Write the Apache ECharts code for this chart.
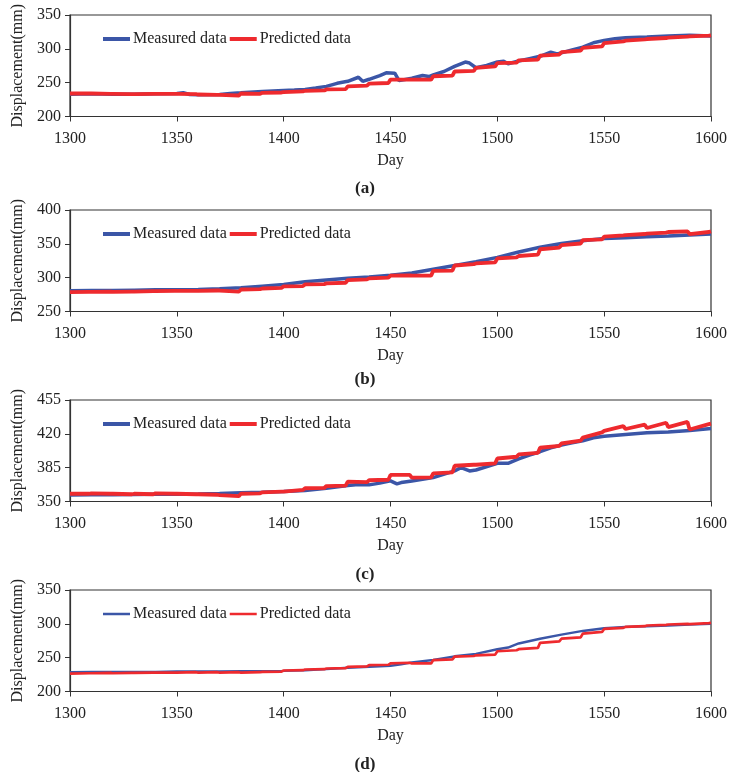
<!DOCTYPE html>
<html>
<head>
<meta charset="utf-8">
<script src="https://cdn.jsdelivr.net/npm/echarts@6/dist/echarts.min.js"></script>
<style>
  html, body { margin: 0; padding: 0; background: #fff; }
  #chart { width: 730px; height: 772px; }
</style>
</head>
<body>
<div id="chart"></div>
<script>
// Day axis and tick settings
const dayMin = 1300, dayMax = 1600, dayStep = 50;
const yRanges = [[200, 350, 50], [250, 400, 50], [350, 455, 35], [200, 350, 50]];
const panelLetters = ['a', 'b', 'c', 'd'];
const seriesNames = ['Measured data', 'Predicted data'];

// Measured displacement, [day, mm]
const measuredA = [[1300,233],[1310,233.5],[1320,233],[1330,233],[1340,233.5],[1350,234],[1353,235],[1356,232.5],[1360,232],[1370,232.5],[1375,234],[1380,235],[1384,236],[1390,237],[1400,238.5],[1405,239],[1410,240],[1415,242],[1420,244.5],[1425,249],[1430,252],[1435,258],[1437,252],[1440,255],[1445,260.5],[1448,264.5],[1452,264],[1454,253],[1460,256.5],[1465,260.5],[1468,259],[1470,261.5],[1475,266.5],[1480,274],[1485,280.5],[1487,279],[1490,272],[1495,275.5],[1500,280.5],[1503,281.5],[1505,278],[1510,282],[1515,285.5],[1520,289],[1525,295],[1528,292.5],[1530,294],[1535,298.5],[1540,302.5],[1545,309],[1550,312.5],[1555,315],[1560,316.5],[1570,317.5],[1580,319],[1590,320],[1600,319]];
const measuredB = [[1300,280.5],[1310,281],[1320,281],[1330,281.5],[1340,282],[1350,282],[1360,282.5],[1370,283.5],[1380,285],[1390,287.5],[1400,290],[1410,294],[1420,296.5],[1430,299],[1440,301],[1450,303.5],[1460,307],[1470,312.5],[1480,318],[1490,323.5],[1500,330],[1510,338],[1520,345],[1530,350.5],[1540,354.5],[1550,358],[1560,359],[1570,360.5],[1580,361.5],[1590,363],[1600,364.5]];
const measuredC = [[1300,356.8],[1310,357],[1320,357],[1330,357.2],[1340,357.5],[1350,357.5],[1360,357.8],[1370,358.3],[1380,359],[1390,359.6],[1400,360.3],[1410,361.3],[1420,363.7],[1430,366.5],[1435,367.5],[1440,367.2],[1445,369],[1450,371.3],[1453,368.2],[1455,369.6],[1460,371.3],[1470,374.7],[1480,381.6],[1483,385],[1487,381.6],[1490,382.6],[1500,389.5],[1505,389.5],[1510,394],[1515,398],[1520,401.5],[1525,405.6],[1530,408.3],[1535,410.7],[1540,412.8],[1545,415.9],[1550,417.6],[1560,419.3],[1570,421],[1580,422],[1590,423.4],[1600,425.5]];
const measuredD = [[1300,228.5],[1310,229],[1320,229],[1330,229],[1340,229],[1350,229.5],[1360,229.5],[1370,229.5],[1380,230],[1390,230],[1400,230.5],[1410,231.5],[1420,233],[1430,235],[1440,236.5],[1450,238],[1455,240],[1460,243],[1470,246.5],[1480,252],[1490,255.5],[1500,262.5],[1505,265],[1510,271],[1520,278],[1530,284],[1540,289.5],[1550,293.5],[1560,295.5],[1570,296.5],[1580,297.5],[1590,299],[1600,300]];

// Predicted displacement, updated every 10 days: first and last value of each block
const blockDays = [1300,1310,1320,1330,1340,1350,1360,1370,1380,1390,1400,1410,1420,1430,1440,1450,1460,1470,1480,1490,1500,1510,1520,1530,1540,1550,1560,1570,1580,1590];
const predStartA = [234,234,233.5,233,233.5,233.5,232.5,232,234,235,236,238,240,244.5,248.5,254.5,254.5,259.5,266.5,272,279,283,290,295,301.5,308.5,312,314.5,316.5,318.5];
const predEndA   = [234,233.5,233,233.5,233.5,233,232,231,233.5,235.5,237,238.5,240.5,245.5,249.5,254.5,254.5,260.5,267.5,274,279.5,284,291.5,297.5,303.5,311,314,316,318,319.5];
const predStartB = [278.5,279,279,279.5,280,280.5,280.5,281,282.5,284,287,290,291.5,296.5,299,303,303,310,318,321,328.5,332,342,348,355.5,360.5,363,365,367.5,364.5];
const predEndB   = [279,279.5,279.5,280,280.5,280.5,281,279.5,283,285,287.5,290.5,292.5,297.5,300,303.5,303,310.5,320,322.5,330,334,344.5,350.5,356.5,362.5,364.5,366.5,368.5,367.5];
const predStartC = [358,358.5,358,358,358.5,358,357.5,356.5,358,359.5,360.3,363.7,366,370.5,372,377.5,374.7,379.2,387,388,394.5,398.7,405.6,410,416,423,425,426,427,424.5];
const predEndC   = [358,358,357.5,357.5,358,357.5,357,355.5,358.5,360.3,362,364,366.5,370,372.5,377.5,375,380.2,388,389.5,396.3,400.4,407.5,413,421.5,428,429.5,431.5,432.3,430];
const predStartD = [226.5,227,227,227.5,228,228,228,228,228,229,231,232.5,234,236.5,239,241.5,241.5,246.5,251.5,253.5,259.5,262.5,272,278,285.5,292.5,295.5,297.5,299,299.5];
const predEndD   = [227,227.5,227.5,228,228,228.5,228.5,228.5,228.5,229.5,231.5,233,234.5,237,239.5,242.5,241.5,247.5,252.5,254.5,261,264.5,274,280,288,294,296.5,298.5,300,301];
const predLast = [320, 368.5, 430.6, 301.5];

const measuredAll = [measuredA, measuredB, measuredC, measuredD];
const predStarts = [predStartA, predStartB, predStartC, predStartD];
const predEnds = [predEndA, predEndB, predEndC, predEndD];

function blocksToPoints(starts, ends, last) {
  const pts = [];
  blockDays.forEach((d, i) => {
    pts.push([d, starts[i]]);
    pts.push([d + 9, ends[i]]);
  });
  pts.push([dayMax, last]);
  return pts;
}

// Panel layout
const gridTops = [15, 210, 400, 590];
const gridHeight = 101.5;
const gridLeft = 70, gridRight = 19;
const lineWidths = [3.5, 3.5, 3.5, 2.4];
const titleTops = [175, 366, 561, 751];
const serif = 'Liberation Serif';
const axisColor = '#333';
const blue = '#3b56a7';
const red = '#ee2a2e';

const grids = [], xAxes = [], yAxes = [], series = [], legends = [], titles = [];

for (let i = 0; i < 4; i++) {
  grids.push({
    left: gridLeft, right: gridRight, top: gridTops[i], height: gridHeight,
    show: true, borderColor: axisColor, borderWidth: 1.2, backgroundColor: 'transparent'
  });
  xAxes.push({
    type: 'value', gridIndex: i, min: dayMin, max: dayMax, interval: dayStep,
    name: 'Day', nameLocation: 'middle', nameGap: 36,
    nameTextStyle: { fontFamily: serif, fontSize: 16, color: '#222' },
    axisLine: { onZero: false, lineStyle: { color: axisColor, width: 1.2 } },
    axisTick: { show: true, inside: false, length: 5, lineStyle: { color: axisColor } },
    axisLabel: { fontFamily: serif, fontSize: 16, color: '#222', margin: 14, formatter: v => String(v) },
    splitLine: { show: false }
  });
  yAxes.push({
    type: 'value', gridIndex: i, min: yRanges[i][0], max: yRanges[i][1], interval: yRanges[i][2],
    name: 'Displacement(mm)', nameLocation: 'middle', nameGap: 44,
    nameTextStyle: { fontFamily: serif, fontSize: 16, color: '#222' },
    axisLine: { show: true, lineStyle: { color: axisColor, width: 1.2 } },
    axisTick: { show: true, inside: false, length: 5, lineStyle: { color: axisColor } },
    axisLabel: { fontFamily: serif, fontSize: 16, color: '#222', margin: 9, formatter: v => String(v) },
    splitLine: { show: false }
  });
  series.push({
    name: seriesNames[0], type: 'line', xAxisIndex: i, yAxisIndex: i,
    data: measuredAll[i], showSymbol: false, symbol: 'none',
    lineStyle: { color: blue, width: lineWidths[i] }, itemStyle: { color: blue },
    z: 2, animation: false
  });
  series.push({
    name: seriesNames[1], type: 'line', xAxisIndex: i, yAxisIndex: i,
    data: blocksToPoints(predStarts[i], predEnds[i], predLast[i]), showSymbol: false, symbol: 'none',
    lineStyle: { color: red, width: lineWidths[i] + 0.3 }, itemStyle: { color: red },
    z: 3, animation: false
  });
  legends.push({
    data: seriesNames, left: 98, top: gridTops[i] + 11, orient: 'horizontal',
    icon: 'rect', itemWidth: 27, itemHeight: i === 3 ? 2.5 : 4, itemGap: 3,
    textStyle: { fontFamily: serif, fontSize: 16, color: '#222', padding: [0, 0, 0, -2] }
  });
  titles.push({
    text: '{p|(}{b|' + panelLetters[i] + '}{p|)}',
    left: 'center', top: titleTops[i],
    textStyle: {
      rich: {
        p: { fontFamily: serif, fontSize: 17, color: '#222' },
        b: { fontFamily: serif, fontSize: 17, fontWeight: 'bold', color: '#222' }
      }
    }
  });
}

const chart = echarts.init(document.getElementById('chart'), null, { renderer: 'canvas' });
chart.setOption({
  animation: false,
  backgroundColor: '#fff',
  title: titles,
  legend: legends,
  grid: grids,
  xAxis: xAxes,
  yAxis: yAxes,
  series: series
});
</script>
</body>
</html>
